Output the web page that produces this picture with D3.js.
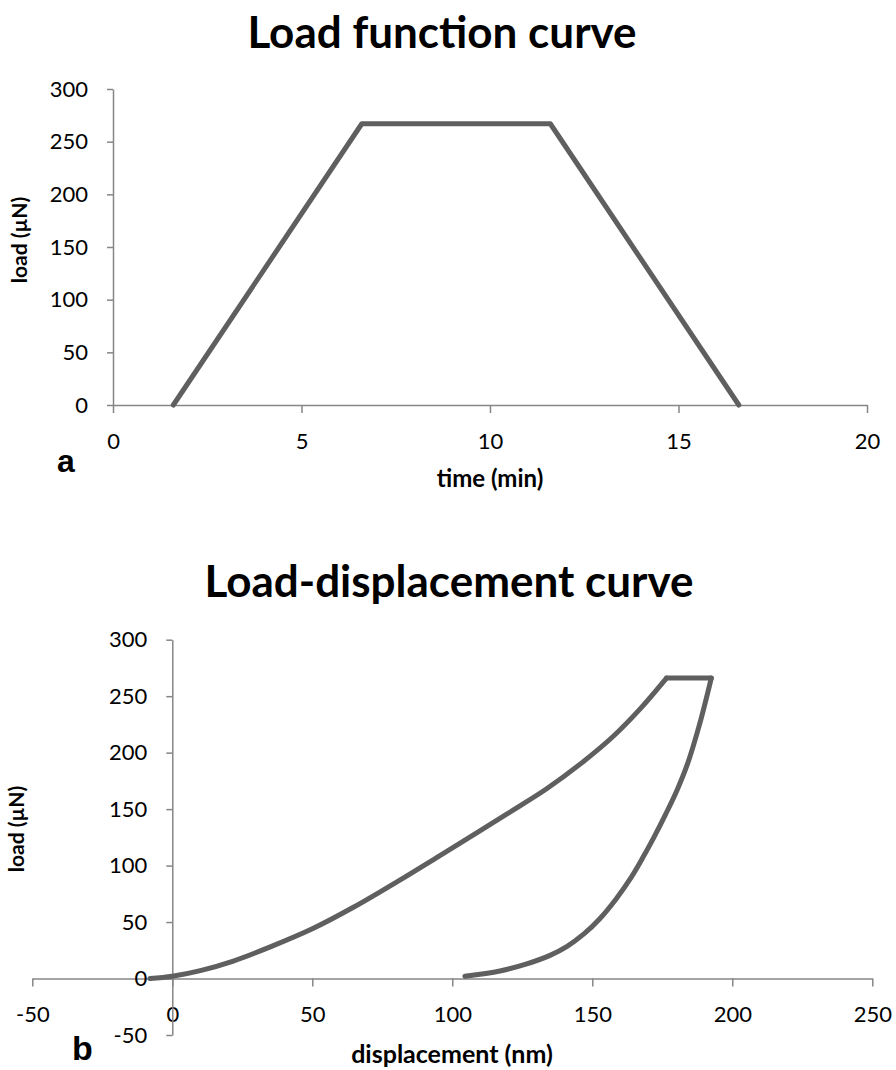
<!DOCTYPE html>
<html>
<head>
<meta charset="utf-8">
<script src="https://cdn.jsdelivr.net/npm/d3@7"></script>
<style>
  body { margin: 0; background: #fff; }
  .axis path, .axis line { stroke: #868686; stroke-width: 1.5px; }
  .axis text { font-family: Lato, sans-serif; font-size: 22px; fill: #000; }
</style>
</head>
<body>
<svg id="chart" width="896" height="1070"></svg>
<script>
// panel a: load function
var timeMin = [1.6, 6.6, 11.6, 16.6];
var loadFn = [0, 267, 267, 0];
var timeTicks = [0, 5, 10, 15, 20];
var loadTicksA = [0, 50, 100, 150, 200, 250, 300];

// panel b: load-displacement (loading, hold, unloading)
var loadingDisp = [-8, 0, 10, 21.8, 35, 50, 65, 80.5, 95, 110, 122, 133.7, 146, 157.5, 167, 176.5];
var loadingLoad = [0, 2, 7, 15.5, 28, 44, 63.5, 86, 108, 131, 149.5, 168, 190.5, 214.5, 238.5, 266];
var holdDisp = [176.5, 192.5];
var holdLoad = [266, 266];
var unloadDisp = [192.5, 188.3, 184, 180.3, 176.3, 172, 167.8, 164, 158.5, 152.5, 147, 141, 134.9, 126, 117, 104.5];
var unloadLoad = [266, 225, 190, 167, 146, 125, 106, 90, 70.5, 52.5, 39.5, 28.5, 20.5, 12.5, 6.7, 2];
var dispTicks = [-50, 0, 50, 100, 150, 200, 250];
var loadTicksB = [-50, 0, 50, 100, 150, 200, 250, 300];

var svg = d3.select("#chart");
var lineColor = "#5f5f5f";
var plain = function (d) { return String(d); };

function zip(xs, ys) { return xs.map(function (d, i) { return [d, ys[i]]; }); }

function styleAxis(g) {
    g.attr("class", "axis");
    g.selectAll(".tick text").attr("fill", "#000");
}

function boldText(x, y, size, str, rotate) {
    var t = svg.append("text")
        .attr("text-anchor", "middle")
        .attr("font-family", "Lato, sans-serif")
        .attr("font-weight", "bold")
        .attr("font-size", size)
        .text(str);
    if (rotate) t.attr("transform", "translate(" + x + "," + y + ") rotate(-90)");
    else t.attr("x", x).attr("y", y);
    return t;
}

// ---------- panel a ----------
var xa = d3.scaleLinear().domain([0, 20]).range([113, 867]);
var ya = d3.scaleLinear().domain([0, 300]).range([405, 89]);

boldText(442, 48, 44, "Load function curve");

svg.append("g")
    .attr("transform", "translate(0," + ya(0) + ")")
    .call(d3.axisBottom(xa).tickValues(timeTicks).tickFormat(plain).tickSize(8).tickSizeOuter(0).tickPadding(20))
    .call(styleAxis);

svg.append("g")
    .attr("transform", "translate(" + xa(0) + ",0)")
    .call(d3.axisLeft(ya).tickValues(loadTicksA).tickFormat(plain).tickSize(6).tickSizeOuter(0).tickPadding(19))
    .call(styleAxis);

svg.append("path")
    .datum(zip(timeMin, loadFn))
    .attr("fill", "none")
    .attr("stroke", lineColor)
    .attr("stroke-width", 5)
    .attr("stroke-linejoin", "round")
    .attr("stroke-linecap", "round")
    .attr("d", d3.line().x(function (d) { return xa(d[0]); }).y(function (d) { return ya(d[1]); }));

boldText(490, 487, 24, "time (min)");
boldText(27, 240, 21, "load (µN)", true);

svg.append("text")
    .attr("x", 57).attr("y", 472)
    .attr("font-family", "'Liberation Sans', Arial, sans-serif")
    .attr("font-weight", "bold")
    .attr("font-size", 32)
    .text("a");

// ---------- panel b ----------
var xb = d3.scaleLinear().domain([-50, 250]).range([32.3, 872.3]);
var yb = d3.scaleLinear().domain([-50, 300]).range([1035, 639.7]);

boldText(449, 597, 44, "Load-displacement curve");

svg.append("g")
    .attr("transform", "translate(0," + yb(0) + ")")
    .call(d3.axisBottom(xb).tickValues(dispTicks).tickFormat(plain).tickSize(8).tickSizeOuter(0).tickPadding(20))
    .call(styleAxis);

svg.append("g")
    .attr("transform", "translate(" + xb(0) + ",0)")
    .call(d3.axisLeft(yb).tickValues(loadTicksB).tickFormat(plain).tickSize(6).tickSizeOuter(0).tickPadding(19))
    .call(styleAxis);

var lineB = d3.line()
    .x(function (d) { return xb(d[0]); })
    .y(function (d) { return yb(d[1]); })
    .curve(d3.curveCatmullRom.alpha(0.5));

[zip(loadingDisp, loadingLoad), zip(holdDisp, holdLoad), zip(unloadDisp, unloadLoad)].forEach(function (seg) {
    svg.append("path")
        .datum(seg)
        .attr("fill", "none")
        .attr("stroke", lineColor)
        .attr("stroke-width", 5)
        .attr("stroke-linejoin", "round")
        .attr("stroke-linecap", "round")
        .attr("d", lineB);
});

boldText(452, 1063, 25, "displacement (nm)");
boldText(24, 829, 21, "load (µN)", true);

svg.append("text")
    .attr("x", 72).attr("y", 1060)
    .attr("font-family", "'Liberation Sans', Arial, sans-serif")
    .attr("font-weight", "bold")
    .attr("font-size", 34)
    .text("b");
</script>
</body>
</html>
